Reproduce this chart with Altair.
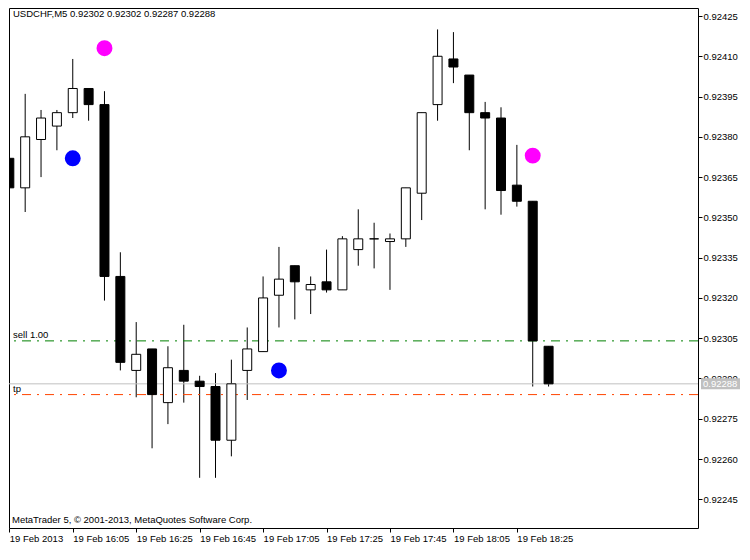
import altair as alt
import pandas as pd

# ---- data (USDCHF, M5, 19 Feb 2013) ----
times = ["15:45", "15:50", "15:55", "16:00", "16:05", "16:10", "16:15", "16:20", "16:25",
         "16:30", "16:35", "16:40", "16:45", "16:50", "16:55", "17:00", "17:05", "17:10",
         "17:15", "17:20", "17:25", "17:30", "17:35", "17:40", "17:45", "17:50", "17:55",
         "18:00", "18:05", "18:10", "18:15", "18:20", "18:25", "18:30", "18:35"]
opens = [0.92372, 0.92361, 0.92379, 0.92384, 0.92389, 0.92398, 0.92392, 0.92328, 0.92293,
         0.92301, 0.92281, 0.92293, 0.92289, 0.92287, 0.92267, 0.92293, 0.92300, 0.92321,
         0.92332, 0.92323, 0.92326, 0.92323, 0.92338, 0.92342, 0.92341, 0.92342, 0.92359,
         0.92392, 0.92409, 0.92403, 0.92389, 0.92387, 0.92362, 0.92356, 0.92302]
highs = [0.92374, 0.92396, 0.92390, 0.92390, 0.92409, 0.92398, 0.92397, 0.92337, 0.92311,
         0.92301, 0.92302, 0.92310, 0.92291, 0.92292, 0.92297, 0.92309, 0.92328, 0.92339,
         0.92332, 0.92328, 0.92338, 0.92343, 0.92353, 0.92348, 0.92344, 0.92361, 0.92389,
         0.92420, 0.92419, 0.92403, 0.92393, 0.92391, 0.92377, 0.92356, 0.92302]
lows = [0.92357, 0.92352, 0.92365, 0.92375, 0.92387, 0.92386, 0.92319, 0.92293, 0.92283,
        0.92264, 0.92273, 0.92281, 0.92253, 0.92253, 0.92261, 0.92282, 0.92300, 0.92309,
        0.92312, 0.92314, 0.92322, 0.92323, 0.92332, 0.92331, 0.92323, 0.92339, 0.92349,
        0.92386, 0.92400, 0.92375, 0.92353, 0.92351, 0.92354, 0.92287, 0.92287]
closes = [0.92361, 0.92380, 0.92387, 0.92389, 0.92398, 0.92392, 0.92328, 0.92296, 0.92299,
          0.92284, 0.92294, 0.92289, 0.92287, 0.92267, 0.92288, 0.92301, 0.92320, 0.92327,
          0.92326, 0.92325, 0.92323, 0.92342, 0.92342, 0.92342, 0.92342, 0.92361, 0.92389,
          0.92410, 0.92406, 0.92389, 0.92387, 0.92360, 0.92356, 0.92304, 0.92288]

signal_times = ["16:15", "16:05", "17:10", "18:30"]
signal_prices = [0.92413, 0.92372, 0.92293, 0.92373]
signal_colors = ["#FF00FF", "#0000FF", "#0000FF", "#FF00FF"]

level_names = ["sell 1.00", "tp"]
level_prices = [0.92304, 0.92284]
level_colors = ["#008000", "#FF4500"]
bid_price = 0.92288

x_tick_times = ["15:45", "16:05", "16:25", "16:45", "17:05", "17:25", "17:45", "18:05", "18:25"]
x_tick_labels = ["19 Feb 2013", "19 Feb 16:05", "19 Feb 16:25", "19 Feb 16:45", "19 Feb 17:05",
                 "19 Feb 17:25", "19 Feb 17:45", "19 Feb 18:05", "19 Feb 18:25"]
y_ticks = [0.92245, 0.92260, 0.92275, 0.92290, 0.92305, 0.92320, 0.92335, 0.92350,
           0.92365, 0.92380, 0.92395, 0.92410, 0.92425]

symbol = "USDCHF,M5"
watermark = "MetaTrader 5, © 2001-2013, MetaQuotes Software Corp."

# ---- build tables ----
pos = {t: i - 1 for i, t in enumerate(times)}
df = pd.DataFrame({"t": times, "open": opens, "high": highs, "low": lows, "close": closes})
df["i"] = df["t"].map(pos)
sig = pd.DataFrame({"t": signal_times, "price": signal_prices, "color": signal_colors})
sig["i"] = sig["t"].map(pos)
lv = pd.DataFrame({"name": level_names, "price": level_prices, "color": level_colors})
bid = pd.DataFrame({"price": [bid_price], "txt": [f"{bid_price:.5f}"]})
title_txt = f"{symbol}  {opens[-1]:.5f} {highs[-1]:.5f} {lows[-1]:.5f} {closes[-1]:.5f}"
txt = pd.DataFrame({"title": [title_txt], "wm": [watermark]})

W, H = 689, 520
FONT = "Liberation Sans"
FS = 9.5
xs = alt.Scale(domain=[-1.02, 42.42], nice=False, zero=False, padding=0)
ys = alt.Scale(domain=[0.9223431, 0.9242798], nice=False, zero=False, padding=0)

tick_pos = [pos[t] for t in x_tick_times]
label_expr = ("[" + ",".join(f"'{l}'" for l in x_tick_labels) + "][indexof(["
              + ",".join(str(p) for p in tick_pos) + "], datum.value)]")

x_axis = alt.Axis(values=tick_pos, labelExpr=label_expr, tickSize=4, labelPadding=1,
                  labelAlign="left", labelBaseline="top", labelFont=FONT, labelFontSize=FS,
                  labelColor="black", tickColor="black", domain=False, grid=False,
                  labelOverlap=False, labelFlush=False, title=None)
y_axis = alt.Axis(orient="right", values=y_ticks, format=".5f", tickSize=4, labelPadding=1,
                  labelFont=FONT, labelFontSize=FS, labelColor="black", tickColor="black",
                  domain=False, grid=False, labelOverlap=False, labelFlush=False, title=None)


def X(field):
    return alt.X(field, scale=xs, axis=x_axis)


def Y(field):
    return alt.Y(field, scale=ys, axis=y_axis)


wicks = alt.Chart(df).mark_rule(color="black", strokeWidth=1, clip=True).encode(
    x=X("i:Q"), y=Y("low:Q"), y2="high:Q",
)
bodies = alt.Chart(df).mark_bar(size=9, stroke="black", strokeWidth=1, clip=True).encode(
    x=X("i:Q"), y=Y("open:Q"), y2="close:Q",
    fill=alt.condition(alt.datum.close >= alt.datum.open, alt.value("white"), alt.value("black")),
)
levels = alt.Chart(lv).mark_rule(strokeWidth=1, strokeDash=[9, 6, 2, 6]).encode(
    y=Y("price:Q"),
    color=alt.Color("color:N", scale=None),
)
level_text = alt.Chart(lv).mark_text(align="left", baseline="middle", dy=-6, font=FONT,
                                     fontSize=FS, color="black").encode(
    x=alt.value(4), y=Y("price:Q"), text="name:N",
)
bid_line = alt.Chart(bid).mark_rule(color="#C0C0C0", strokeWidth=1).encode(
    y=Y("price:Q"),
)
bid_box = alt.Chart(bid).mark_rect(color="#C0C0C0", yOffset=-5.5, y2Offset=5.5).encode(
    x=alt.value(W + 3), x2=alt.value(W + 42),
    y=Y("price:Q"), y2="price:Q",
)
bid_text = alt.Chart(bid).mark_text(align="left", baseline="middle", font=FONT, fontSize=FS,
                                    color="white").encode(
    x=alt.value(W + 5), y=Y("price:Q"), text="txt:N",
)
dots = alt.Chart(sig).mark_circle(size=254, opacity=1).encode(
    x=X("i:Q"), y=Y("price:Q"),
    color=alt.Color("color:N", scale=None),
)
title = alt.Chart(txt).mark_text(align="left", baseline="top", font=FONT, fontSize=FS,
                                 color="black").encode(
    x=alt.value(4), y=alt.value(1), text="title:N")
wm = alt.Chart(txt).mark_text(align="left", baseline="middle", font=FONT, fontSize=FS,
                              color="black").encode(
    x=alt.value(3), y=alt.value(H - 8), text="wm:N")

chart = alt.layer(wicks, bid_line, levels, bodies, dots, level_text, title, wm, bid_box,
                  bid_text).properties(
    width=W, height=H, padding=0, background="white"
).configure_view(stroke="black", strokeWidth=1)

chart.save("out.html", embed_options={"renderer": "svg", "actions": False})
